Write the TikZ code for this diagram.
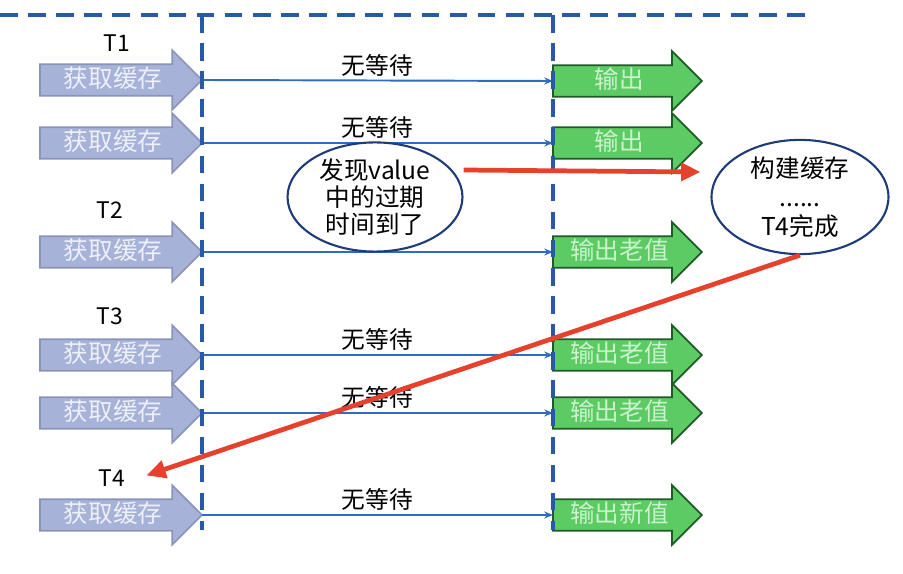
\documentclass[tikz,border=0pt]{standalone}
\usepackage{fontspec}
\setmainfont{Noto Sans CJK SC}
\usetikzlibrary{shapes.arrows,shapes.geometric,arrows.meta}

\definecolor{getfill}{HTML}{A7B2D9}
\definecolor{getedge}{HTML}{8A94B8}
\definecolor{gettext}{HTML}{EEF0F8}
\definecolor{outfill}{HTML}{5CCB63}
\definecolor{outedge}{HTML}{1F5A29}
\definecolor{outtext}{HTML}{C9F2CD}
\definecolor{flowblue}{HTML}{2F6CBF}
\definecolor{fenceblue}{HTML}{2858A6}
\definecolor{ringblue}{HTML}{1F3C78}
\definecolor{hotred}{HTML}{E5412C}

\tikzset{
  getbox/.style={single arrow, draw=getedge, fill=getfill, line width=1pt,
    text=gettext, font=\fontsize{14}{16}\selectfont,
    text height=11pt, text depth=3pt, inner xsep=2pt, inner ysep=1.5pt,
    single arrow head extend=8pt, minimum height=3.24cm, outer sep=0pt,
    anchor=tip},
  outbox/.style={getbox, draw=outedge, fill=outfill, text=outtext,
    minimum height=2.98cm, anchor=tail},
  flow/.style={draw=flowblue, line width=1.1pt, -{Stealth[length=5pt,width=4pt]}},
  wait/.style={above, font=\fontsize{13.5}{15}\selectfont, inner sep=2pt},
  thread/.style={font=\fontsize{13}{15}\selectfont},
  cloud/.style={ellipse, draw=ringblue, line width=1.2pt, fill=white,
    align=center, font=\fontsize{14}{15.5}\selectfont, inner sep=0pt},
  hot/.style={draw=hotred, line width=2.7pt, -{Triangle[length=11pt,width=10pt]}},
  fence/.style={draw=fenceblue, line width=2.4pt, dash pattern=on 10pt off 6pt}
}

\begin{document}
\begin{tikzpicture}[x=0.02cm, y=-0.02cm]
  \useasboundingbox (0,0) rectangle (903,574);

  % threads
  \node[thread] (t1) at (117,43) {T1};
  \node[thread] (t2) at (110,210) {T2};
  \node[thread] (t3) at (110,316) {T3};
  \node[thread] (t4) at (112,478) {T4};

  % requests
  \node[getbox] (g1) at (202,80) {获取缓存};
  \node[getbox] (g2) at (202,143) {获取缓存};
  \node[getbox] (g3) at (202,252) {获取缓存};
  \node[getbox] (g4) at (202,355) {获取缓存};
  \node[getbox] (g5) at (202,413) {获取缓存};
  \node[getbox] (g6) at (202,515) {获取缓存};

  % results
  \node[outbox] (o1) at (553,81) {输出};
  \node[outbox] (o2) at (553,143) {输出};
  \node[outbox] (o3) at (553,252) {输出老值};
  \node[outbox] (o4) at (553,355) {输出老值};
  \node[outbox] (o5) at (553,413) {输出老值};
  \node[outbox] (o6) at (553,515) {输出新值};

  % flows
  \draw[flow] (g1.tip) -- node[wait] {无等待} (o1.tail);
  \draw[flow] (g2.tip) -- node[wait] {无等待} (o2.tail);
  \draw[flow] (g3.tip) -- (o3.tail);
  \draw[flow] (g4.tip) -- node[wait] {无等待} (o4.tail);
  \draw[flow] (g5.tip) -- node[wait] {无等待} (o5.tail);
  \draw[flow] (g6.tip) -- node[wait] {无等待} (o6.tail);

  % fences
  \draw[fence] (0,15) -- (810,15);
  \draw[fence] (202,15) -- (202,530);
  \draw[fence] (553,15) -- (553,530);

  % ellipses
  \node[cloud, minimum width=3.5cm, minimum height=1.86cm] (e1) at (375,197)
    {发现value\\中的过期\\时间到了};
  \node[cloud, minimum width=3.54cm, minimum height=2.14cm] (e2) at (800,197)
    {构建缓存\\[1pt]......\\[1pt]T4完成};

  % rebuild
  \draw[hot] ([yshift=0.54cm]e1.east) -- ([xshift=-0.2cm,yshift=0.5cm]e2.west);
  \draw[hot] (e2.south) -- ([xshift=0.3cm,yshift=0.05cm]t4.east);

\end{tikzpicture}
\end{document}
